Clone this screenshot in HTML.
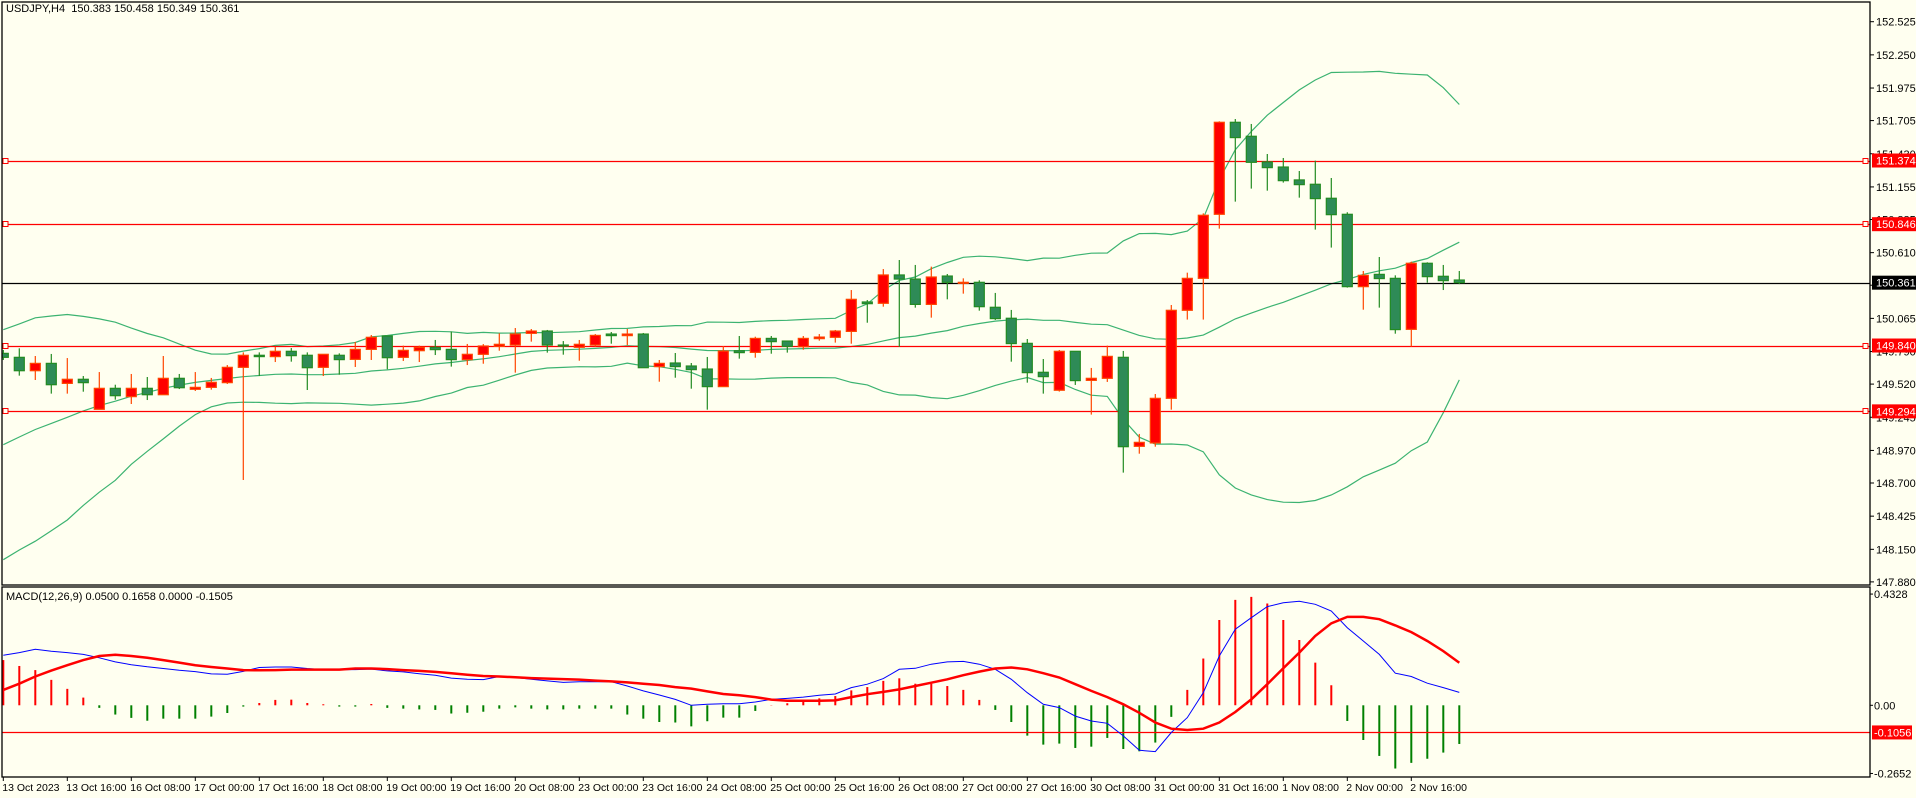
<!DOCTYPE html>
<html><head><meta charset="utf-8"><style>
html,body{margin:0;padding:0;background:#fff;}
svg{display:block;font-family:"Liberation Sans",sans-serif;}
</style></head><body>
<svg id="chart" width="1916" height="798" viewBox="0 0 1916 798" xmlns="http://www.w3.org/2000/svg">
<rect x="0" y="0" width="1916" height="798" fill="#FFFFF0"/>
<g id="price-area"></g>
<g id="macd-area"></g>
<g id="axes"></g>
</svg>
<script>
const NS='http://www.w3.org/2000/svg';
const opens=[149.775,149.742,149.631,149.692,149.526,149.560,149.311,149.485,149.416,149.485,149.432,149.568,149.477,149.493,149.532,149.659,149.759,149.748,149.792,149.759,149.659,149.759,149.725,149.808,149.919,149.742,149.797,149.825,149.808,149.723,149.767,149.833,149.844,149.941,149.960,149.844,149.825,149.844,149.935,149.922,149.935,149.665,149.695,149.670,149.645,149.499,149.797,149.783,149.899,149.877,149.830,149.897,149.908,149.957,150.201,150.190,150.425,150.391,150.181,150.416,150.359,150.364,150.157,150.066,149.858,149.618,149.469,149.792,149.551,149.568,149.742,149.004,149.032,149.402,150.132,150.397,150.928,151.691,151.575,151.362,151.320,151.213,151.177,151.061,150.928,150.328,150.430,150.397,149.974,150.522,150.414,150.383];
const highs=[149.803,149.817,149.753,149.770,149.736,149.587,149.620,149.515,149.604,149.579,149.753,149.604,149.620,149.571,149.678,149.783,149.783,149.830,149.819,149.783,149.767,149.775,149.869,149.927,149.919,149.839,149.839,149.886,149.955,149.853,149.852,149.941,149.985,149.977,149.969,149.877,149.886,149.935,149.952,149.977,149.944,149.720,149.778,149.695,149.745,149.836,149.919,149.913,149.919,149.877,149.919,149.935,149.969,150.300,150.217,150.474,150.549,150.508,150.494,150.433,150.397,150.381,150.276,150.135,149.894,149.728,149.803,149.792,149.654,149.839,149.795,149.107,149.438,150.176,150.444,150.936,151.699,151.718,151.677,151.428,151.395,151.287,151.373,151.229,150.945,150.458,150.574,150.422,150.535,150.530,150.508,150.458];
const lows=[149.720,149.590,149.554,149.441,149.441,149.457,149.311,149.391,149.355,149.388,149.432,149.479,149.463,149.474,149.521,148.725,149.587,149.703,149.706,149.471,149.587,149.598,149.662,149.720,149.643,149.712,149.703,149.761,149.665,149.678,149.689,149.797,149.615,149.872,149.781,149.764,149.714,149.830,149.855,149.844,149.656,149.540,149.573,149.482,149.308,149.499,149.731,149.739,149.772,149.781,149.805,149.880,149.864,149.855,150.029,150.162,149.830,150.154,150.071,150.223,150.270,150.129,150.052,149.706,149.532,149.441,149.458,149.513,149.267,149.538,148.786,148.943,149.001,149.308,150.055,150.055,150.809,151.033,151.141,151.124,151.191,151.066,150.801,150.652,150.320,150.137,150.154,149.938,149.831,150.361,150.300,150.349];
const closes=[149.742,149.631,149.692,149.515,149.560,149.532,149.485,149.424,149.485,149.432,149.568,149.490,149.493,149.535,149.659,149.759,149.748,149.792,149.756,149.656,149.767,149.723,149.808,149.908,149.739,149.800,149.825,149.806,149.723,149.767,149.836,149.850,149.935,149.960,149.844,149.841,149.850,149.924,149.922,149.935,149.656,149.692,149.665,149.640,149.499,149.794,149.781,149.899,149.872,149.833,149.899,149.910,149.960,150.223,150.187,150.425,150.391,150.181,150.408,150.364,150.364,150.162,150.063,149.856,149.615,149.582,149.792,149.549,149.568,149.750,149.001,149.037,149.402,150.132,150.397,150.920,151.691,151.564,151.359,151.315,151.207,151.174,151.058,150.925,150.328,150.422,150.395,149.972,150.522,150.411,150.378,150.361];
const warmupCloses=[148.40,148.35,148.45,148.50,148.55,148.48,148.60,148.70,148.65,148.80,148.90,148.95,149.05,149.20,149.35,149.45,149.55,149.60,149.70,149.78];
const macdMain=[0.195,0.205,0.218,0.210,0.205,0.198,0.185,0.169,0.158,0.150,0.143,0.136,0.131,0.122,0.121,0.132,0.147,0.149,0.149,0.143,0.139,0.139,0.139,0.141,0.134,0.130,0.123,0.117,0.106,0.101,0.100,0.112,0.108,0.101,0.095,0.089,0.092,0.092,0.092,0.075,0.056,0.040,0.023,0.000,0.004,0.006,
0.006,0.013,0.023,0.027,0.032,0.039,0.044,0.069,0.082,0.104,0.140,0.144,0.160,0.169,0.171,0.160,0.140,0.101,0.049,0.004,-0.009,-0.042,-0.061,-0.070,-0.119,-0.175,-0.180,-0.106,-0.048,0.049,0.192,0.296,0.341,0.384,0.399,0.405,0.393,0.367,0.302,0.250,0.198,0.125,0.112,0.086,0.069,0.050];
const macdSignal=[0.060,0.084,0.112,0.135,0.156,0.176,0.192,0.197,0.192,0.185,0.176,0.166,0.156,0.149,0.143,0.137,0.136,0.137,0.139,0.139,0.139,0.139,0.143,0.143,0.141,0.137,0.134,0.130,0.125,0.119,0.114,0.112,0.109,0.106,0.104,0.102,0.100,0.096,0.093,0.089,0.084,0.079,0.071,0.065,0.054,0.044,
0.039,0.032,0.022,0.018,0.018,0.018,0.019,0.032,0.043,0.052,0.062,0.075,0.088,0.101,0.117,0.131,0.143,0.147,0.140,0.125,0.108,0.082,0.056,0.032,0.004,-0.029,-0.067,-0.091,-0.096,-0.091,-0.067,-0.026,0.023,0.082,0.144,0.205,0.270,0.319,0.344,0.344,0.335,0.311,0.285,0.250,0.211,0.1658];
const macdHist=[0.176,0.153,0.137,0.099,0.064,0.030,-0.010,-0.036,-0.049,-0.060,-0.052,-0.052,-0.052,-0.044,-0.030,-0.005,0.009,0.021,0.022,0.009,0.004,-0.005,-0.005,0.005,-0.010,-0.013,-0.016,-0.018,-0.032,-0.029,-0.025,-0.013,-0.008,-0.013,-0.016,-0.016,-0.013,-0.013,-0.013,-0.036,-0.052,-0.065,-0.067,-0.082,-0.062,-0.048,
-0.048,-0.022,0.001,0.008,0.014,0.027,0.036,0.058,0.071,0.095,0.105,0.084,0.084,0.075,0.060,0.021,-0.018,-0.065,-0.118,-0.153,-0.149,-0.166,-0.161,-0.127,-0.170,-0.179,-0.145,-0.045,0.060,0.182,0.332,0.410,0.422,0.396,0.332,0.254,0.166,0.078,-0.061,-0.135,-0.197,-0.246,-0.224,-0.208,-0.184,-0.1505];
const priceTicks=[152.525,152.250,151.975,151.705,151.430,151.155,150.885,150.610,150.340,150.065,149.790,149.520,149.245,148.970,148.700,148.425,148.150,147.880];
const levels=[151.374,150.846,149.840,149.294];
const currentPrice=150.361;
const macdTicks=[0.4328,0.00,-0.2652];
const macdLevel=-0.1056;
const timeLabels=["13 Oct 2023","13 Oct 16:00","16 Oct 08:00","17 Oct 00:00","17 Oct 16:00","18 Oct 08:00","19 Oct 00:00","19 Oct 16:00","20 Oct 08:00","23 Oct 00:00","23 Oct 16:00","24 Oct 08:00","25 Oct 00:00","25 Oct 16:00","26 Oct 08:00","27 Oct 00:00","27 Oct 16:00","30 Oct 08:00","31 Oct 00:00","31 Oct 16:00","1 Nov 08:00","2 Nov 00:00","2 Nov 16:00"];

const AX=1870;
function xB(i){return 3.3+16*i;}
function yP(p){return 21.7+(152.525-p)*120.6;}
function yM(v){return 705.3-v*257;}
function mk(tag,attrs,parent,text){const e=document.createElementNS(NS,tag);for(const k in attrs)e.setAttribute(k,attrs[k]);if(text!==undefined)e.textContent=text;parent.appendChild(e);return e;}

const pa=document.getElementById('price-area');
const ma=document.getElementById('macd-area');
const ax=document.getElementById('axes');
const defs=mk('defs',{},document.getElementById('chart'));
const cp=mk('clipPath',{id:'cp'},defs);mk('rect',{x:2,y:2,width:AX-2,height:583},cp);
const cm=mk('clipPath',{id:'cm'},defs);mk('rect',{x:2,y:587,width:AX-2,height:190},cm);
pa.setAttribute('clip-path','url(#cp)');ma.setAttribute('clip-path','url(#cm)');

const all=warmupCloses.concat(closes);const W=warmupCloses.length;
let up='',mid='',lo='';
for(let i=0;i<closes.length;i++){
  const s=all.slice(i+W-19,i+W+1);const m=s.reduce((a,b)=>a+b,0)/s.length;
  const sd=Math.sqrt(s.reduce((a,b)=>a+(b-m)*(b-m),0)/s.length);
  const x=xB(i).toFixed(1);
  up+=(i?'L':'M')+x+','+yP(m+2*sd).toFixed(1);
  mid+=(i?'L':'M')+x+','+yP(m).toFixed(1);
  lo+=(i?'L':'M')+x+','+yP(m-2*sd).toFixed(1);
}
[[up,'bb-upper'],[mid,'bb-middle'],[lo,'bb-lower']].forEach(([d,n])=>{
  const e=mk('path',{d:d,fill:'none',stroke:'#3CB371','stroke-width':1.2},pa);
  
  
});

levels.forEach((lv,k)=>{
  const y=Math.round(yP(lv))+0.5;
  const l=mk('line',{x1:2,x2:AX,y1:y,y2:y,stroke:'#FF0000','stroke-width':1.2},pa);
  
  
  mk('rect',{x:3,y:y-3,width:5,height:5,fill:'#FFFFF0',stroke:'#FF0000'},pa);
  mk('rect',{x:AX-7,y:y-3,width:5,height:5,fill:'#FFFFF0',stroke:'#FF0000'},ax);
});
const cy=Math.round(yP(currentPrice))+0.5;
const cl=mk('line',{x1:2,x2:AX,y1:cy,y2:cy,stroke:'#000','stroke-width':1.2},pa);



for(let i=0;i<closes.length;i++){
  const o=opens[i],c=closes[i],h=highs[i],l=lows[i];const bull=c>=o;
  const x=xB(i);const g=mk('g',{},pa);
  
  
  const wc=bull?'#FF4500':'#228B22';
  mk('line',{x1:x,x2:x,y1:yP(h),y2:yP(l),stroke:wc,'stroke-width':1.2},g);
  const t=yP(Math.max(o,c)),b=yP(Math.min(o,c));
  mk('rect',{x:x-5,y:t,width:10,height:Math.max(1,b-t),fill:bull?'#FF0000':'#2E8B57',stroke:wc,'stroke-width':1.2},g);
}

for(let i=0;i<macdHist.length;i++){
  const v=macdHist[i];const x=xB(i);
  const e=mk('line',{x1:x,x2:x,y1:yM(0),y2:yM(v),stroke:v>=0?'#FF0000':'#008000','stroke-width':2},ma);
  
  
}
const ml=mk('line',{x1:2,x2:AX,y1:Math.round(yM(macdLevel))+0.5,y2:Math.round(yM(macdLevel))+0.5,stroke:'#FF0000','stroke-width':1.2},ma);


let dm='',ds='';
for(let i=0;i<macdMain.length;i++){dm+=(i?'L':'M')+xB(i).toFixed(1)+','+yM(macdMain[i]).toFixed(1);}
for(let i=0;i<macdSignal.length;i++){ds+=(i?'L':'M')+xB(i).toFixed(1)+','+yM(macdSignal[i]).toFixed(1);}
const pm=mk('path',{d:dm,fill:'none',stroke:'#0000FF','stroke-width':1},ma);


const ps=mk('path',{d:ds,fill:'none',stroke:'#FF0000','stroke-width':2.5},ma);



mk('rect',{x:2,y:2,width:AX-2,height:583,fill:'none',stroke:'#000','stroke-width':1.3},ax);
mk('rect',{x:2,y:587,width:AX-2,height:190,fill:'none',stroke:'#000','stroke-width':1.3},ax);

priceTicks.forEach(p=>{
  const y=yP(p);
  mk('line',{x1:AX,x2:AX+4,y1:y,y2:y,stroke:'#000'},ax);
  const t=mk('text',{x:AX+6,y:y+4,'font-size':11,fill:'#000'},ax,p.toFixed(3));
  
  
});
function tag(v,y,bg,txt,w){
  mk('rect',{x:AX+2,y:y-7,width:w,height:14,fill:bg},ax);
  const t=mk('text',{x:AX+6,y:y+4,'font-size':11,fill:'#fff'},ax,txt);
  
  
}
levels.forEach(lv=>tag(lv,yP(lv),'#FF0000',lv.toFixed(3),45));
tag(currentPrice,yP(currentPrice),'#000',currentPrice.toFixed(3),45);

macdTicks.forEach(v=>{
  const y=yM(v);
  mk('line',{x1:AX,x2:AX+3,y1:y,y2:y,stroke:'#000'},ax);
  const t=mk('text',{x:AX+4,y:y+4,'font-size':11,fill:'#000'},ax,v===0?'0.00':v.toFixed(4));
  
  
});
mk('rect',{x:AX+2,y:yM(macdLevel)-7,width:40,height:14,fill:'#FF0000'},ax);
const mt=mk('text',{x:AX+4,y:yM(macdLevel)+4,'font-size':11,fill:'#fff'},ax,macdLevel.toFixed(4));



timeLabels.forEach((s,k)=>{
  const x=xB(k*4);
  mk('line',{x1:x,x2:x,y1:777,y2:781,stroke:'#000'},ax);
  const t=mk('text',{x:x-1,y:791,'font-size':10.5,fill:'#000'},ax,s);
  
  
});
</script>
<div style="position:absolute;left:6px;top:3px;font:11px 'Liberation Sans',sans-serif;color:#000;">USDJPY,H4&nbsp; 150.383 150.458 150.349 150.361</div>
<div style="position:absolute;left:6px;top:591px;font:11px 'Liberation Sans',sans-serif;color:#000;">MACD(12,26,9) 0.0500 0.1658 0.0000 -0.1505</div>
</body></html>
